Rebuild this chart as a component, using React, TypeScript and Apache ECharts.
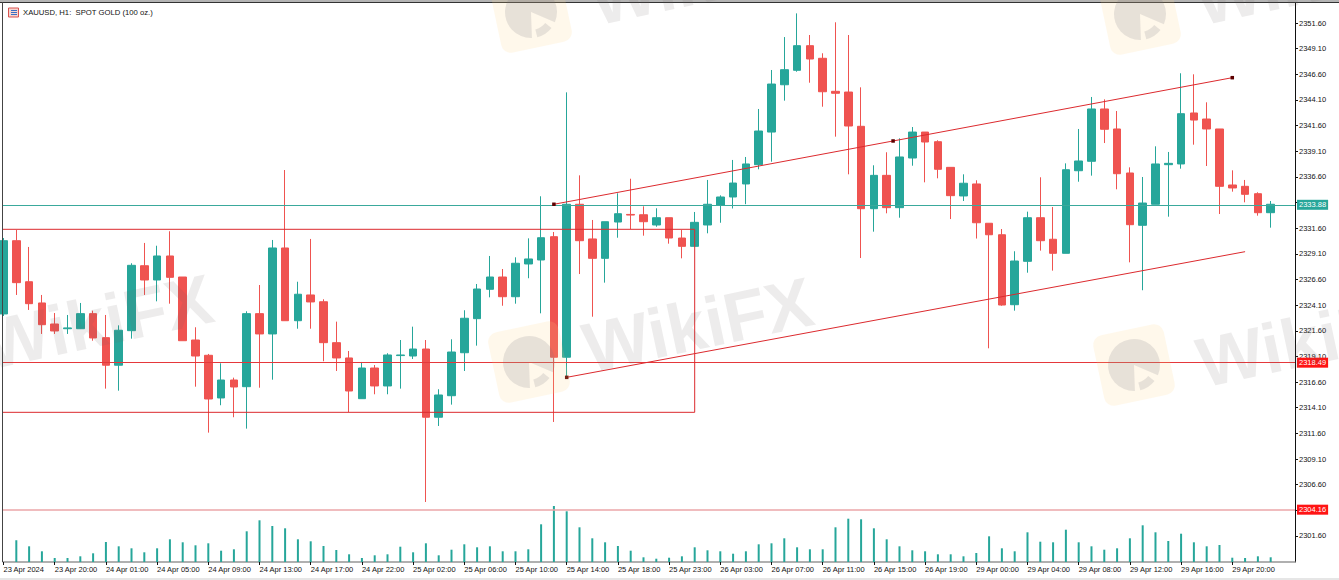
import React, { useEffect, useRef } from "react";
import * as echarts from "echarts";

const opens = [2323.24,2330.38,2326.38,2324.31,2322.26,2321.80,2321.80,2323.27,2320.93,2318.24,2321.61,2327.94,2326.55,2328.89,2326.84,2320.70,2319.21,2315.05,2316.80,2316.15,2323.27,2321.29,2329.67,2322.58,2325.09,2324.43,2320.44,2318.95,2314.98,2317.97,2316.22,2319.18,2319.14,2319.82,2313.17,2315.27,2319.46,2322.78,2325.64,2326.84,2324.92,2328.11,2328.50,2330.77,2319.02,2333.93,2330.55,2328.66,2332.20,2332.94,2332.91,2331.91,2332.62,2330.64,2329.83,2331.91,2333.83,2334.64,2335.91,2337.79,2340.97,2345.58,2346.99,2349.39,2348.16,2344.94,2344.87,2341.53,2333.50,2336.75,2333.60,2338.44,2340.97,2340.03,2337.53,2334.74,2335.91,2332.08,2330.96,2324.14,2328.37,2332.62,2330.52,2329.15,2337.20,2338.12,2343.22,2341.27,2336.98,2331.88,2333.93,2337.79,2337.86,2342.83,2342.24,2341.27,2335.81,2335.68,2334.96,2333.11];
const closes = [2330.38,2326.29,2324.24,2322.19,2321.58,2321.88,2323.27,2320.90,2318.24,2321.65,2327.98,2326.55,2328.89,2326.81,2320.63,2319.14,2314.95,2316.80,2316.12,2323.27,2321.29,2329.67,2322.58,2325.16,2324.41,2320.44,2318.95,2315.73,2317.97,2316.22,2319.24,2319.24,2319.82,2313.17,2315.34,2319.53,2322.82,2325.67,2326.84,2324.92,2328.18,2328.60,2330.67,2319.02,2333.93,2330.38,2328.66,2332.23,2333.01,2332.88,2332.23,2332.62,2330.64,2329.83,2332.17,2333.93,2334.64,2336.00,2337.86,2341.07,2345.65,2347.05,2349.39,2348.09,2344.90,2344.75,2341.56,2333.50,2336.75,2333.60,2338.54,2340.97,2340.00,2337.34,2334.77,2335.98,2332.13,2330.96,2324.11,2328.40,2332.62,2330.38,2329.15,2337.30,2338.15,2343.22,2341.24,2336.91,2331.94,2334.05,2337.86,2337.92,2342.76,2342.14,2341.27,2335.68,2335.52,2334.90,2333.11,2333.93];
const lows = [2323.04,2325.09,2323.63,2321.29,2321.29,2321.29,2321.77,2320.63,2315.96,2315.76,2320.83,2325.09,2324.47,2324.24,2320.63,2316.15,2311.67,2314.34,2313.17,2312.06,2316.05,2316.83,2322.58,2321.80,2321.80,2318.63,2317.68,2313.68,2314.98,2315.41,2315.41,2315.96,2318.85,2304.91,2312.32,2314.40,2317.68,2320.15,2324.86,2324.04,2324.24,2326.72,2323.30,2312.71,2317.00,2327.13,2322.97,2326.29,2330.67,2331.52,2330.87,2331.74,2330.09,2328.66,2329.83,2331.10,2332.13,2333.52,2333.94,2337.34,2338.08,2344.03,2346.85,2345.78,2343.44,2340.52,2336.85,2328.69,2331.26,2333.05,2332.62,2337.69,2336.07,2336.46,2332.49,2334.25,2330.59,2319.89,2324.04,2323.56,2327.26,2329.41,2327.46,2329.15,2336.13,2336.72,2339.90,2335.39,2328.27,2325.55,2333.93,2332.72,2337.40,2339.74,2337.66,2332.98,2335.16,2334.12,2332.82,2331.65];
const highs = [2330.64,2331.42,2329.77,2325.09,2323.33,2323.14,2324.31,2323.56,2323.14,2322.13,2328.18,2330.16,2329.89,2331.30,2326.84,2321.94,2319.34,2318.43,2317.03,2323.50,2326.06,2330.45,2337.27,2326.38,2330.55,2324.67,2322.49,2319.63,2318.56,2318.26,2319.41,2320.70,2322.00,2320.70,2315.90,2320.77,2323.60,2326.16,2328.89,2327.62,2328.76,2330.61,2334.71,2331.23,2344.84,2336.75,2332.40,2332.23,2335.00,2336.42,2333.73,2333.54,2332.62,2331.42,2333.18,2336.30,2334.80,2338.25,2338.54,2343.22,2347.02,2350.23,2352.54,2350.43,2348.65,2351.67,2350.43,2345.33,2337.73,2339.00,2340.36,2341.46,2340.97,2340.17,2337.53,2336.85,2336.27,2332.08,2331.52,2329.35,2333.21,2336.56,2333.66,2337.92,2341.27,2344.39,2344.16,2343.02,2337.53,2336.59,2339.58,2339.03,2346.70,2346.60,2343.87,2341.27,2337.24,2336.30,2335.10,2334.25];
const volumes = [0,217,157,107,40,40,57,87,200,157,137,97,137,227,197,167,187,113,127,307,417,360,337,227,207,160,120,77,40,67,77,153,97,187,67,123,177,147,157,107,107,127,377,560,507,347,237,197,160,113,47,33,43,57,147,117,107,83,107,177,187,237,147,127,127,347,433,427,337,227,157,117,107,77,77,57,90,257,137,107,297,203,197,323,197,157,123,137,237,367,297,210,283,197,157,170,43,40,57,47];

const timeLabels = ["23 Apr 2024","23 Apr 20:00","24 Apr 01:00","24 Apr 05:00","24 Apr 09:00","24 Apr 13:00","24 Apr 17:00","24 Apr 22:00","25 Apr 02:00","25 Apr 06:00","25 Apr 10:00","25 Apr 14:00","25 Apr 18:00","25 Apr 23:00","26 Apr 03:00","26 Apr 07:00","26 Apr 11:00","26 Apr 15:00","26 Apr 19:00","29 Apr 00:00","29 Apr 04:00","29 Apr 08:00","29 Apr 12:00","29 Apr 16:00","29 Apr 20:00"];
const priceTicks = [2301.6,2304.1,2306.6,2309.1,2311.6,2314.1,2316.6,2319.1,2321.6,2324.1,2326.6,2329.1,2331.6,2334.1,2336.6,2339.1,2341.6,2344.1,2346.6,2349.1,2351.6];

const lastPrice = 2333.88;
const levelA = 2318.49;
const levelB = 2304.16;
const boxTop = 2331.49;
const boxBottom = 2313.65;
const boxRightIndex = 54;
const upperChannelIndex = [43, 69.5, 96];
const upperChannelPrice = [2333.93, 2340.1, 2346.27];
const lowerChannelIndex = [44, 97];
const lowerChannelPrice = [2317.06, 2329.31];

const UP = "#26a69a";
const DOWN = "#ef5350";
const LINE = "#dc2a2e";
const FONT = '"Liberation Sans", Arial, sans-serif';
const FS = 7.5;

const deg = (d: number) => (d * Math.PI) / 180;

function mark(value: number, color: string, tag: string, width: number) {
  return {
    yAxis: value,
    lineStyle: { color, width, type: "solid" },
    label: {
      show: true,
      position: "end",
      distance: 2,
      formatter: value.toFixed(2),
      color: "#fff",
      backgroundColor: tag,
      padding: [1, 2, 1, 2],
      fontSize: FS,
      fontFamily: FONT,
    },
  };
}

function watermark(cx: number, cy: number) {
  return {
    type: "text",
    x: cx,
    y: cy,
    rotation: deg(12),
    silent: true,
    z: 100,
    style: {
      text: "WikiFX",
      fontSize: 70,
      fontWeight: "bold",
      fontFamily: FONT,
      fill: "rgba(110,100,100,0.12)",
      textAlign: "center",
      textVerticalAlign: "middle",
    },
  };
}

function logo(cx: number, cy: number) {
  return {
    type: "group",
    x: cx,
    y: cy,
    rotation: deg(12),
    silent: true,
    z: 100,
    children: [
      { type: "rect", z: 100, shape: { x: -36, y: -36, width: 72, height: 72, r: 10 }, style: { fill: "rgba(255,214,130,0.16)" } },
      { type: "sector", z: 101, shape: { cx: 0, cy: 0, r: 26, r0: 0, startAngle: deg(100), endAngle: deg(395) }, style: { fill: "rgba(110,110,125,0.17)" } },
      { type: "sector", z: 101, shape: { cx: 0, cy: 0, r: 26, r0: 18, startAngle: deg(50), endAngle: deg(88) }, style: { fill: "rgba(110,110,125,0.17)" } },
    ],
  };
}

export default function App() {
  const ref = useRef<HTMLDivElement>(null);

  useEffect(() => {
    document.body.style.margin = "0";
    document.body.style.background = "#fff";
    const chart = echarts.init(ref.current!, undefined, { renderer: "svg" });

    const candles = opens.map((o, i) => [i, o, closes[i], lows[i], highs[i]]);
    const volumeData = volumes.map((v, i) => [i, v]);
    const tickIndexes = timeLabels.map((_, i) => i * 4);

    chart.setOption({
      animation: false,
      backgroundColor: "#ffffff",
      grid: { left: 3, right: 44, top: 3, bottom: 18 },
      xAxis: {
        type: "value",
        min: -0.04,
        max: 100.9,
        splitLine: { show: false },
        axisLine: { show: true, onZero: false, lineStyle: { color: "#969696", width: 1.5 } },
        axisTick: { show: true, length: 3, customValues: tickIndexes, lineStyle: { color: "#111" } },
        axisLabel: {
          customValues: tickIndexes,
          align: "left",
          margin: 3,
          fontSize: FS,
          fontFamily: FONT,
          color: "#111",
          formatter: (v: number) => timeLabels[Math.round(v / 4)] ?? "",
        },
      },
      yAxis: [
        {
          type: "value",
          position: "right",
          min: 2299.06,
          max: 2353.55,
          scale: true,
          splitLine: { show: false },
          axisLine: { show: true, onZero: false, lineStyle: { color: "#111", width: 1 } },
          axisTick: { show: true, length: 3, customValues: priceTicks, lineStyle: { color: "#111" } },
          axisLabel: {
            customValues: priceTicks,
            margin: 4,
            fontSize: FS,
            fontFamily: FONT,
            color: "#111",
            formatter: (v: number) => v.toFixed(2),
          },
        },
        { type: "value", show: false, min: 0, max: 5590, splitLine: { show: false } },
      ],
      series: [
        {
          type: "bar",
          name: "Volume",
          yAxisIndex: 1,
          data: volumeData,
          barWidth: 2,
          itemStyle: { color: UP },
          silent: true,
        },
        {
          type: "candlestick",
          name: "XAUUSD",
          yAxisIndex: 0,
          data: candles,
          barWidth: 8,
          itemStyle: { color: UP, color0: DOWN, borderColor: UP, borderColor0: DOWN, borderWidth: 1 },
          silent: true,
          markLine: {
            silent: true,
            symbol: "none",
            animation: false,
            data: [
              mark(lastPrice, "#3aa99c", UP, 1),
              mark(levelA, "#e5383b", "#ff1414", 1),
              mark(levelB, "#eba6a8", "#ff1414", 1.5),
            ],
          },
        },
        {
          type: "line",
          name: "Box",
          yAxisIndex: 0,
          silent: true,
          showSymbol: false,
          data: [
            [-1, boxTop],
            [boxRightIndex, boxTop],
            [boxRightIndex, boxBottom],
            [-1, boxBottom],
          ],
          lineStyle: { color: LINE, width: 1 },
          z: 5,
        },
        {
          type: "line",
          name: "Upper channel",
          yAxisIndex: 0,
          silent: true,
          showSymbol: true,
          showAllSymbol: true,
          symbol: "rect",
          symbolSize: 3.5,
          data: upperChannelIndex.map((x, i) => [x, upperChannelPrice[i]]),
          lineStyle: { color: LINE, width: 1 },
          itemStyle: { color: "#5c0000" },
          z: 6,
        },
        {
          type: "line",
          name: "Lower channel",
          yAxisIndex: 0,
          silent: true,
          showSymbol: true,
          showAllSymbol: true,
          symbol: "rect",
          symbolSize: 3.5,
          data: [
            { value: [lowerChannelIndex[0], lowerChannelPrice[0]] },
            { value: [lowerChannelIndex[1], lowerChannelPrice[1]], symbol: "none" },
          ],
          lineStyle: { color: LINE, width: 1 },
          itemStyle: { color: "#5c0000" },
          z: 6,
        },
      ],
      graphic: {
        elements: [
          { type: "rect", silent: true, z: 50, shape: { x: 0, y: 0, width: 1339, height: 2 }, style: { fill: "#b4b4b4" } },
          { type: "rect", silent: true, z: 50, shape: { x: 0, y: 2, width: 1339, height: 1 }, style: { fill: "#333333" } },
          { type: "rect", silent: true, z: 50, shape: { x: 2, y: 2, width: 1, height: 560 }, style: { fill: "#444444" } },
          { type: "rect", silent: true, z: 50, shape: { x: 0, y: 578, width: 1339, height: 2 }, style: { fill: "#e6e6e6" } },
          { type: "rect", silent: true, z: 60, shape: { x: 8.5, y: 8, width: 10, height: 9 }, style: { fill: "#f6d5d0", stroke: "#d9534f", lineWidth: 1 } },
          { type: "rect", silent: true, z: 61, shape: { x: 11, y: 10, width: 6, height: 1 }, style: { fill: "#3a6fc4" } },
          { type: "rect", silent: true, z: 61, shape: { x: 11, y: 12, width: 6, height: 1 }, style: { fill: "#3a6fc4" } },
          { type: "rect", silent: true, z: 61, shape: { x: 11, y: 14, width: 6, height: 1 }, style: { fill: "#3a6fc4" } },
          {
            type: "text",
            silent: true,
            z: 60,
            x: 23,
            y: 12.5,
            style: {
              text: "XAUUSD, H1:  SPOT GOLD (100 oz.)",
              fontSize: 7.7,
              fontFamily: FONT,
              fill: "#111",
              textVerticalAlign: "middle",
            },
          },
          watermark(98, 322),
          watermark(698, 325),
          watermark(1312, 340),
          watermark(705, -22),
          watermark(1310, -22),
          logo(529, 362),
          logo(1134, 365),
          logo(531, 12),
          logo(1140, 14),
        ],
      },
    });
    return () => chart.dispose();
  }, []);

  return <div ref={ref} style={{ width: 1339, height: 580 }} />;
}
